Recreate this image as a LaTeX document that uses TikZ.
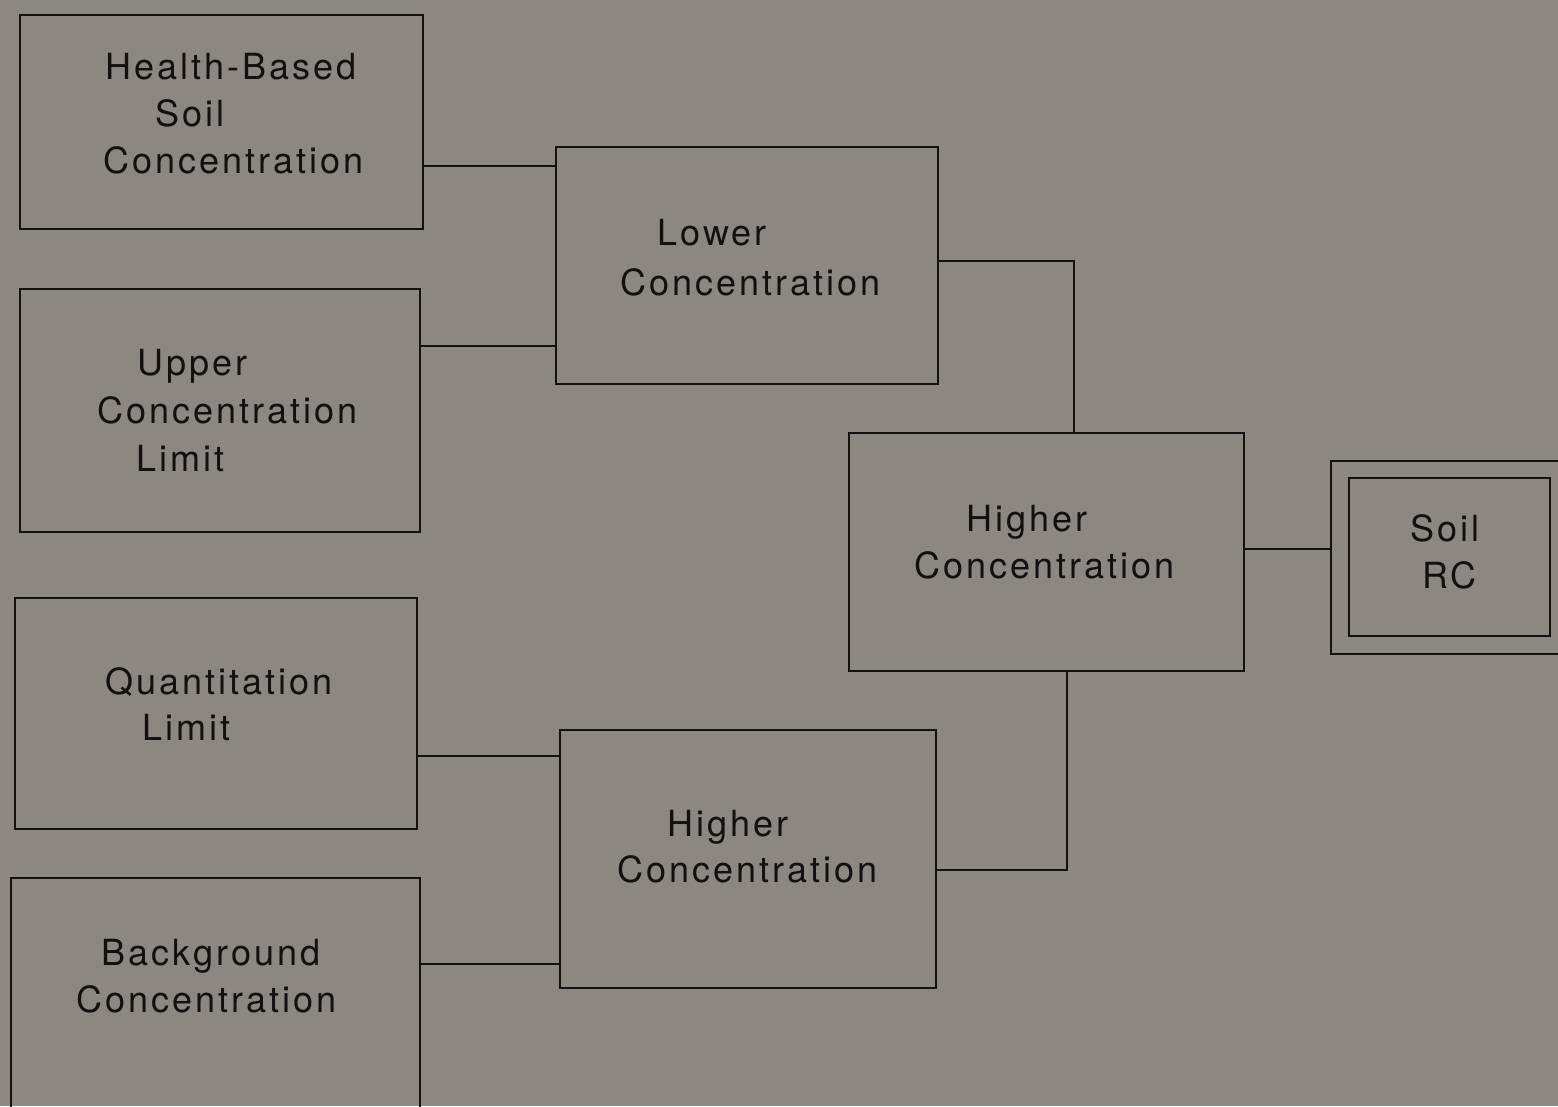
\documentclass[tikz,border=0pt]{standalone}
\usepackage{fontspec}
\setmainfont[LetterSpace=8.5]{TeX Gyre Heros}
\definecolor{bgc}{RGB}{139,135,129}
\definecolor{ink}{RGB}{18,17,16}
\begin{document}
\begin{tikzpicture}[x=1pt,y=-1pt,
  box/.style={draw=ink, line width=2.2pt, rectangle, inner sep=0pt},
  txt/.style={anchor=base west, inner sep=0pt, text=ink, font=\fontsize{36}{43}\selectfont},
  wire/.style={draw=ink, line width=2pt}]
\fill[bgc] (0,0) rectangle (1558,1106);
\useasboundingbox (0,0) rectangle (1558,1106);
% boxes
\node[box, minimum width=403pt, minimum height=214pt] (hb) at (221.5,122) {};
\node[box, minimum width=400pt, minimum height=243pt] (ucl) at (220,410.5) {};
\node[box, minimum width=402pt, minimum height=231pt] (ql) at (216,713.5) {};
\node[box, minimum width=409pt, minimum height=242pt] (bg) at (215.5,999) {};
\node[box, minimum width=382pt, minimum height=237pt] (low) at (747,265.5) {};
\node[box, minimum width=376pt, minimum height=258pt] (hib) at (748,859) {};
\node[box, minimum width=395pt, minimum height=238pt] (him) at (1046.5,552) {};
\node[box, minimum width=244pt, minimum height=193pt] (rco) at (1453,557.5) {};
\node[box, minimum width=201pt, minimum height=158pt] (rci) at (1449.5,557) {};
% texts
\node[txt] (t1a) at (105,79) {Health-Based};
\node[txt] (t1b) at (155,126) {Soil};
\node[txt] (t1c) at (103,173) {Concentration};
\node[txt] (t2a) at (137,375) {Upper};
\node[txt] (t2b) at (97,423) {Concentration};
\node[txt] (t2c) at (136,471) {Limit};
\node[txt] (t3a) at (105,694) {Quantitation};
\node[txt] (t3b) at (142,740) {Limit};
\node[txt] (t4a) at (101,965) {Background};
\node[txt] (t4b) at (76,1012) {Concentration};
\node[txt] (t5a) at (657,245) {Lower};
\node[txt] (t5b) at (620,295) {Concentration};
\node[txt] (t6a) at (667,836) {Higher};
\node[txt] (t6b) at (617,882) {Concentration};
\node[txt] (t7a) at (966,531) {Higher};
\node[txt] (t7b) at (914,578) {Concentration};
\node[txt] (t8a) at (1410,541) {Soil};
\node[txt] (t8b) at (1422,588) {RC};
% connector coordinates
\coordinate (y1) at (0,166);
\coordinate (y2) at (0,346);
\coordinate (y3) at (0,756);
\coordinate (y4) at (0,964);
\coordinate (y5) at (0,261);
\coordinate (x5) at (1074,0);
\coordinate (x6) at (1067,0);
\coordinate (y6) at (0,870);
\coordinate (y7) at (0,549);
% connectors
\draw[wire] (hb.east |- y1) -- (low.west |- y1);
\draw[wire] (ucl.east |- y2) -- (low.west |- y2);
\draw[wire] (ql.east |- y3) -- (hib.west |- y3);
\draw[wire] (bg.east |- y4) -- (hib.west |- y4);
\draw[wire] (low.east |- y5) -| (x5 |- him.north);
\draw[wire] (x6 |- him.south) |- (hib.east |- y6);
\draw[wire] (him.east |- y7) -- (rco.west |- y7);
\end{tikzpicture}
\end{document}
